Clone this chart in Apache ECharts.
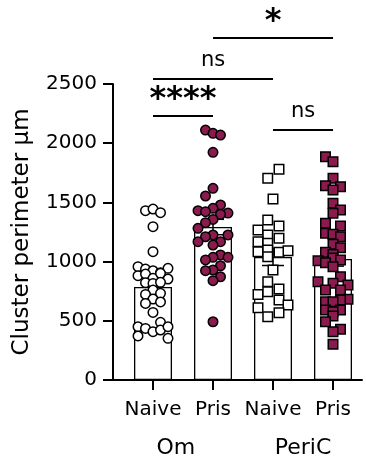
<!DOCTYPE html>
<html>
<head>
<meta charset="utf-8">
<script src="https://cdn.jsdelivr.net/npm/echarts@6/dist/echarts.min.js"></script>
<style>
html, body { margin: 0; padding: 0; background: #fff; }
#main { width: 366px; height: 468px; }
</style>
</head>
<body>
<div id="main"></div>
<script>
const subLabels = ["Naive", "Pris", "Naive", "Pris"];
const groupLabels = ["Om", "PeriC"];
const groupCenters = [0.38, 2.5];
const yTicks = [0, 500, 1000, 1500, 2000, 2500];

const barMeans = [785, 1292, 1039, 1022];
const barSem = [55, 65, 72, 60];

// points per group, with a column index for the horizontal spread
const omNaive = [1430, 1444, 1413, 1295, 1084, 957, 937, 923, 906, 943, 881, 895, 859, 901, 853, 822, 816, 825, 760, 723, 732, 684, 647, 659, 571, 487, 450, 436, 408, 422, 450, 372, 352];
const omNaiveCol = [-1, 0, 1, 0, 0, -2, -1, 0, 1, 2, -2, -1, 0, 1, 2, -1, 0, 1, 0, -1, 1, 0, -1, 1, 0, 1, -2, -1, 0, 1, 2, -2, 2];

const omPris = [2111, 2083, 2069, 1923, 1619, 1554, 1478, 1450, 1430, 1422, 1410, 1399, 1356, 1329, 1281, 1225, 1210, 1225, 1168, 1168, 1140, 1056, 1036, 1036, 1014, 965, 929, 923, 872, 839, 492];
const omPrisCol = [-1, 0, 1, 0, 0, -1, 1, 0, -2, -1, 2, 1, 0, -1, -2, 0, -1, 2, -2, 1, 0, 1, 0, 2, -1, 1, 0, -1, 1, 0, 0];

const periNaive = [1779, 1703, 1529, 1351, 1301, 1267, 1225, 1197, 1168, 1154, 1084, 1098, 1078, 1092, 1042, 929, 830, 723, 746, 769, 676, 611, 633, 535, 568];
const periNaiveCol = [0.8, -0.7, 0, -0.7, 0.8, -2, -0.7, 0.8, -2, -0.7, -2, -0.7, 0.8, 2, -0.7, 0, -0.7, -2, -0.7, 0.8, 0.8, -2, 2, -0.7, 0.8];

const periPris = [1886, 1844, 1703, 1641, 1633, 1605, 1492, 1436, 1408, 1323, 1301, 1239, 1231, 1210, 1146, 1118, 1080, 1060, 1030, 1014, 1007, 991, 957, 873, 830, 817, 802, 760, 760, 682, 676, 661, 661, 591, 591, 577, 541, 492, 428, 408, 302];
const periPrisCol = [-1, 0, 0, -1, 1, 0, 0, 1, 0, -1, 1, -1, 0, 1, 0, 1, -1, 0, 0, 1, -2, -1, 0, 1, -2, 0, 2, -1, 1, 2, 1, -1, 0, -1, 1, 0, 0, -1, 1, 0, 0];

// significance brackets
const sigLabels = ["****", "ns", "*", "ns"];
const sigFrom = [0, 0, 1, 2];
const sigTo = [1, 2, 3, 3];
const sigHeight = [2230, 2542, 2889, 2111];

const magenta = "#8b1a4f";
const font = "DejaVu Sans";
const step = 0.125;

function spread(values, cols, g) {
    return values.map((v, k) => [g + cols[k] * step, v]);
}

function dots(values, cols, g, symbol, fill) {
    return {
        type: "scatter",
        data: spread(values, cols, g),
        symbol: symbol,
        symbolSize: 9.5,
        itemStyle: { color: fill, borderColor: "#000", borderWidth: 1.5, opacity: 1 },
        z: 5,
        silent: true
    };
}

const chart = echarts.init(document.getElementById("main"));

const option = {
    animation: false,
    backgroundColor: "#fff",
    grid: { left: 113, right: 4, top: 84, bottom: 88 },
    xAxis: [
        {
            type: "value",
            min: -0.6667,
            max: 3.4833,
            axisLine: { onZero: false, lineStyle: { color: "#000", width: 2 } },
            splitLine: { show: false },
            axisTick: { customValues: [0, 1, 2, 3], length: 10, lineStyle: { color: "#000", width: 2 } },
            axisLabel: {
                customValues: [0, 1, 2, 3],
                formatter: (v) => subLabels[Math.round(v)],
                color: "#000",
                fontFamily: font,
                fontSize: 20,
                margin: 20
            }
        },
        {
            type: "value",
            min: -0.6667,
            max: 3.4833,
            position: "bottom",
            offset: 37,
            axisLine: { show: false },
            splitLine: { show: false },
            axisTick: { show: false },
            axisLabel: {
                customValues: groupCenters,
                formatter: (v) => groupLabels[v < 1.5 ? 0 : 1],
                color: "#000",
                fontFamily: font,
                fontSize: 22,
                margin: 20
            }
        }
    ],
    yAxis: {
        type: "value",
        min: yTicks[0],
        max: yTicks[yTicks.length - 1],
        interval: yTicks[1] - yTicks[0],
        name: "Cluster perimeter µm",
        nameLocation: "middle",
        nameRotate: 90,
        nameGap: 79,
        nameTextStyle: { color: "#000", fontFamily: font, fontSize: 23 },
        axisLine: { show: true, onZero: false, lineStyle: { color: "#000", width: 2 } },
        axisTick: { show: true, length: 10, lineStyle: { color: "#000", width: 2 } },
        splitLine: { show: false },
        axisLabel: {
            color: "#000",
            fontFamily: font,
            fontSize: 20,
            margin: 16,
            formatter: (v) => String(v)
        }
    },
    series: [
        {
            type: "bar",
            data: barMeans.map((m, i) => [i, m]),
            barWidth: 38,
            itemStyle: { color: "#fff", borderColor: "#000", borderWidth: 1.3 },
            z: 1,
            silent: true
        },
        {
            type: "custom",
            data: barMeans.map((m, i) => [i, m - barSem[i], m + barSem[i]]),
            renderItem: (params, api) => {
                const lo = api.coord([api.value(0), api.value(1)]);
                const hi = api.coord([api.value(0), api.value(2)]);
                const w = 11;
                const st = { stroke: "#000", lineWidth: 1.5 };
                return {
                    type: "group",
                    children: [
                        { type: "line", shape: { x1: lo[0], y1: lo[1], x2: hi[0], y2: hi[1] }, style: st },
                        { type: "line", shape: { x1: lo[0] - w, y1: lo[1], x2: lo[0] + w, y2: lo[1] }, style: st },
                        { type: "line", shape: { x1: hi[0] - w, y1: hi[1], x2: hi[0] + w, y2: hi[1] }, style: st }
                    ]
                };
            },
            z: 3,
            silent: true
        },
        dots(omNaive, omNaiveCol, 0, "circle", "#fff"),
        dots(omPris, omPrisCol, 1, "circle", magenta),
        dots(periNaive, periNaiveCol, 2, "rect", "#fff"),
        dots(periPris, periPrisCol, 3, "rect", magenta),
        {
            // significance brackets, drawn through the axis scales
            type: "custom",
            clip: false,
            silent: true,
            data: sigLabels.map((t, i) => [sigFrom[i], sigTo[i], sigHeight[i], i]),
            renderItem: (params, api) => {
                const a = api.coord([api.value(0), api.value(2)]);
                const b = api.coord([api.value(1), api.value(2)]);
                const t = sigLabels[api.value(3)];
                const star = t.indexOf("*") >= 0;
                return {
                    type: "group",
                    children: [
                        {
                            type: "line",
                            shape: { x1: a[0], y1: a[1], x2: b[0], y2: b[1] },
                            style: { stroke: "#000", lineWidth: 2 }
                        },
                        {
                            type: "text",
                            x: (a[0] + b[0]) / 2,
                            y: a[1] - (star ? 0 : 8),
                            style: {
                                text: t,
                                fill: "#000",
                                align: "center",
                                verticalAlign: "bottom",
                                fontFamily: font,
                                fontSize: star ? 32 : 21,
                                fontWeight: star ? "bold" : "normal"
                            }
                        }
                    ]
                };
            },
            z: 6
        }
    ]
};

chart.setOption(option);
</script>
</body>
</html>
